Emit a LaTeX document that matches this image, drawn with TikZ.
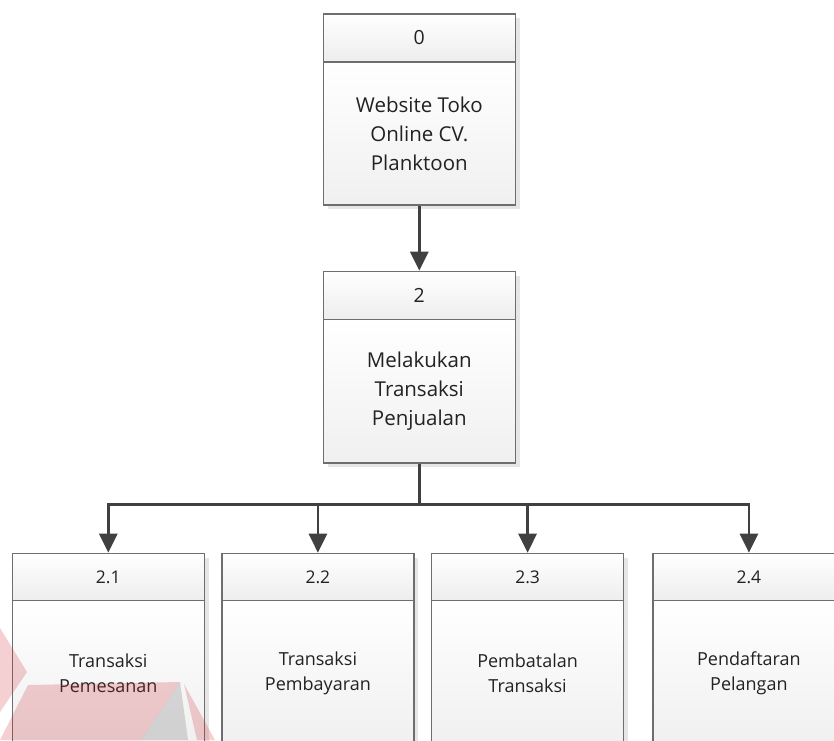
\documentclass[tikz,border=0pt]{standalone}
\usepackage{fontspec}
\setmainfont{Open Sans}
\usetikzlibrary{arrows.meta,shadows}

\definecolor{boxline}{HTML}{6E6E6E}
\definecolor{wire}{HTML}{404040}
\definecolor{shadowgray}{HTML}{E6E6E6}
\definecolor{inktext}{HTML}{222222}
\definecolor{markred}{RGB}{204,40,50}
\definecolor{markgray}{RGB}{150,150,150}

\tikzset{
  procbase/.style={draw=boxline, line width=1.2pt, inner sep=0pt, text=inktext,
    align=center, anchor=north west, minimum width=192pt,
    general shadow={fill=shadowgray, shadow xshift=4.5pt, shadow yshift=-4.5pt}},
  bighead/.style={font=\fontsize{19.5pt}{28.5pt}\selectfont},
  bigbody/.style={font=\fontsize{20.5pt}{29pt}\selectfont},
  smallhead/.style={font=\fontsize{17.5pt}{25pt}\selectfont},
  smallbody/.style={font=\fontsize{18pt}{25pt}\selectfont},
  headbox/.style={procbase, top color=white, bottom color=black!7},
  bodybox/.style={procbase, top color=white, bottom color=black!6},
  wireline/.style={draw=wire, line width=2.8pt},
  wirearrow/.style={wireline, -{Triangle[length=19pt,width=18pt]}},
  markshape/.style={fill=markred, fill opacity=0.22, draw=none},
  markshade/.style={fill=markgray, fill opacity=0.35, draw=none},
}

\begin{document}
\begin{tikzpicture}[x=1pt,y=-1pt]
  \useasboundingbox (0,0) rectangle (834,740);
  \clip (0,0) rectangle (834,740);

  % level 0
  \node[headbox, bighead, minimum height=48pt] (h0) at (322.7,13.3) {0};
  \node[bodybox, bigbody, minimum height=143pt] (b0) at (322.7,61.3)
    {Website Toko\\Online CV.\\Planktoon};

  % level 1
  \node[headbox, bighead, minimum height=48pt] (h2) at (322.7,270.7) {2};
  \node[bodybox, bigbody, minimum height=143.6pt] (b2) at (322.7,318.7)
    {Melakukan\\Transaksi\\Penjualan};

  % level 2
  \node[headbox, smallhead, minimum height=47.3pt] (h21) at (11.7,552.7) {2.1};
  \node[bodybox, smallbody, minimum height=145pt] (b21) at (11.7,600)
    {Transaksi\\Pemesanan};
  \node[headbox, smallhead, minimum height=47.3pt] (h22) at (221.3,552.7) {2.2};
  \node[bodybox, smallbody, minimum height=145pt] (b22) at (221.3,600)
    {Transaksi\\Pembayaran};
  \node[headbox, smallhead, minimum height=47.3pt] (h23) at (431,552.7) {2.3};
  \node[bodybox, smallbody, minimum height=145pt] (b23) at (431,600)
    {Pembatalan\\Transaksi};
  \node[headbox, smallhead, minimum height=47.3pt] (h24) at (652.3,552.7) {2.4};
  \node[bodybox, smallbody, minimum height=145pt] (b24) at (652.3,600)
    {Pendaftaran\\Pelangan};

  % connectors
  \draw[wirearrow] (b0.south) -- (h2.north);
  \coordinate (split) at (b2.south |- 0,504.3);
  \draw[wireline] (b2.south) -- (split);
  \draw[wirearrow] (split) -| (h21.north);
  \draw[wirearrow] (split) -| (h22.north);
  \draw[wirearrow] (split) -| (h23.north);
  \draw[wirearrow] (split) -| (h24.north);

  % faint logo mark in the lower left corner
  \fill[markshape] (0,628) -- (27,672) -- (0,712) -- cycle;
  \fill[markshape] (0,740) -- (28,685) -- (180,682) -- (141,740) -- cycle;
  \fill[markshape] (184,684) -- (215,740) -- (197,740) -- cycle;
  \fill[markshade] (180,682) -- (141,740) -- (188,740) -- cycle;
\end{tikzpicture}
\end{document}
